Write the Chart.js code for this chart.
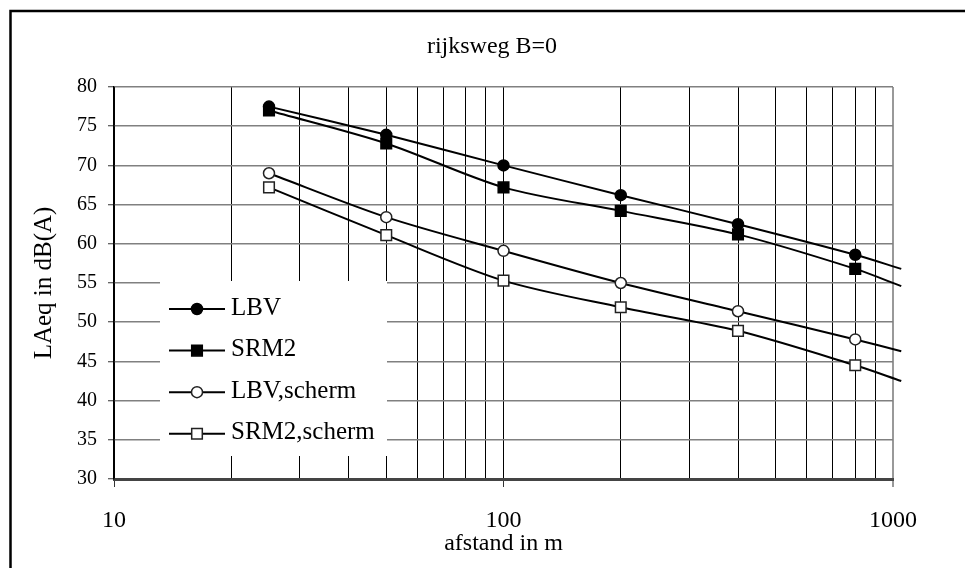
<!DOCTYPE html>
<html lang="nl">
<head>
  <meta charset="UTF-8">
  <title>rijksweg B=0</title>
  <script src="https://cdn.jsdelivr.net/npm/chart.js"></script>
  <style>
    body {
      margin: 0;
      padding: 0;
      background: #ffffff;
    }
    #wrap {
      width: 965px;
      height: 568px;
    }
  </style>
</head>
<body>
  <div id="wrap">
    <canvas id="chart" width="965" height="568"></canvas>
  </div>

  <script>
    // afstand (m); het laatste punt is alleen het doorlopende lijnstuk voorbij 1000 m
    const afstand = [25, 50, 100, 200, 400, 800, 1050];

    // LAeq in dB(A) per rekenmethode
    const lbv        = [77.5, 73.9, 70.0, 66.2, 62.5, 58.6, 56.8];
    const srm2       = [77.0, 72.8, 67.2, 64.2, 61.2, 56.8, 54.6];
    const lbvScherm  = [69.0, 63.4, 59.1, 55.0, 51.4, 47.8, 46.3];
    const srm2Scherm = [67.2, 61.1, 55.3, 51.9, 48.9, 44.5, 42.5];

    // rasterlijnen op de log-as en de waarden die een label krijgen
    const xGridValues = [10, 20, 30, 40, 50, 60, 70, 80, 90, 100, 200, 300, 400, 500, 600, 700, 800, 900, 1000];
    const xTickLabels = [10, 100, 1000];

    const titel = 'rijksweg B=0';
    const serif = "'Liberation Serif', 'Times New Roman', serif";

    function toPoints(values) {
      return values.map((v, i) => ({ x: afstand[i], y: v }));
    }

    function makeDataset(label, values, style, filled) {
      const last = values.length - 1;
      const r = style === 'rect' ? 7.5 : 5.5;
      return {
        label: label,
        data: toPoints(values),
        borderColor: '#000',
        borderWidth: 2,
        tension: 0.3,
        pointStyle: style,
        pointRadius: ctx => ctx.dataIndex === last ? 0 : r,
        pointHoverRadius: ctx => ctx.dataIndex === last ? 0 : r,
        pointBackgroundColor: filled ? '#000' : '#fff',
        pointBorderColor: filled ? '#000' : '#222',
        pointBorderWidth: 1.5,
        clip: false
      };
    }

    // witte achtergrond, kader, titel en legenda
    const decorPlugin = {
      id: 'decor',
      beforeDraw(chart) {
        const ctx = chart.ctx;
        ctx.save();
        ctx.fillStyle = '#fff';
        ctx.fillRect(0, 0, chart.width, chart.height);
        ctx.restore();
      },
      afterDraw(chart) {
        const ctx = chart.ctx;
        ctx.save();

        // kader links en boven
        ctx.strokeStyle = '#000';
        ctx.lineWidth = 2.5;
        ctx.beginPath();
        ctx.moveTo(10.5, chart.height);
        ctx.lineTo(10.5, 11);
        ctx.lineTo(chart.width, 11);
        ctx.stroke();

        // titel
        ctx.fillStyle = '#000';
        ctx.font = '24px ' + serif;
        ctx.textAlign = 'center';
        ctx.textBaseline = 'middle';
        ctx.fillText(titel, 492, 47);

        // legenda met wit vlak over het raster
        const box = { x: 160, y: 281, w: 227, h: 175 };
        ctx.fillStyle = '#fff';
        ctx.fillRect(box.x, box.y, box.w, box.h);

        ctx.font = '25px ' + serif;
        ctx.textAlign = 'left';
        chart.data.datasets.forEach((ds, i) => {
          const y = 309 + i * 41.6;
          ctx.strokeStyle = '#000';
          ctx.lineWidth = 2;
          ctx.beginPath();
          ctx.moveTo(169, y);
          ctx.lineTo(225, y);
          ctx.stroke();

          const r = ds.pointStyle === 'rect' ? 7.5 : 5.5;
          ctx.fillStyle = ds.pointBackgroundColor;
          ctx.strokeStyle = ds.pointBorderColor;
          ctx.lineWidth = ds.pointBorderWidth;
          ctx.beginPath();
          if (ds.pointStyle === 'rect') {
            const s = r * Math.SQRT1_2;
            ctx.rect(197 - s, y - s, 2 * s, 2 * s);
          } else {
            ctx.arc(197, y, r, 0, Math.PI * 2);
          }
          ctx.fill();
          ctx.stroke();

          ctx.fillStyle = '#000';
          ctx.fillText(ds.label, 231, y - 1);
        });

        ctx.restore();
      }
    };

    const ctx = document.getElementById('chart').getContext('2d');
    new Chart(ctx, {
      type: 'line',
      data: {
        datasets: [
          makeDataset('LBV', lbv, 'circle', true),
          makeDataset('SRM2', srm2, 'rect', true),
          makeDataset('LBV,scherm', lbvScherm, 'circle', false),
          makeDataset('SRM2,scherm', srm2Scherm, 'rect', false)
        ]
      },
      options: {
        responsive: false,
        animation: false,
        devicePixelRatio: 1,
        layout: {
          padding: { left: 0, top: 87, right: 72, bottom: 0 }
        },
        plugins: {
          legend: { display: false },
          title: { display: false },
          tooltip: { enabled: false }
        },
        scales: {
          x: {
            type: 'logarithmic',
            min: 10,
            max: 1000,
            afterBuildTicks(scale) {
              scale.ticks = xGridValues.map(v => ({ value: v, major: xTickLabels.includes(v) }));
            },
            afterFit(scale) {
              scale.height = 89;
            },
            ticks: {
              autoSkip: false,
              maxRotation: 0,
              padding: 19,
              color: '#000',
              font: { family: serif, size: 24 },
              callback: value => xTickLabels.includes(value) ? String(value) : ''
            },
            grid: {
              color: c => c.tick && c.tick.value === 1000 ? '#999' : '#000',
              lineWidth: c => c.tick && c.tick.value === 1000 ? 2 : 1,
              tickLength: 8,
              tickColor: c => c.tick && xTickLabels.includes(c.tick.value) ? '#333' : 'rgba(0,0,0,0)',
              tickWidth: 1
            },
            border: { color: '#444', width: 3 },
            title: {
              display: true,
              text: 'afstand in m',
              color: '#000',
              font: { family: serif, size: 24 },
              padding: { top: 0, bottom: 10 }
            }
          },
          y: {
            min: 30,
            max: 80,
            afterFit(scale) {
              scale.width = 114;
            },
            ticks: {
              stepSize: 5,
              padding: 11,
              color: '#000',
              font: { family: serif, size: 20 }
            },
            grid: {
              color: '#808080',
              lineWidth: 1.5,
              tickLength: 6,
              tickColor: '#333',
              tickWidth: 1
            },
            border: { color: '#000', width: 1.5 },
            title: {
              display: true,
              text: 'LAeq in dB(A)',
              color: '#000',
              font: { family: serif, size: 25 },
              padding: { top: 29, bottom: 0 }
            }
          }
        }
      },
      plugins: [decorPlugin]
    });
  </script>
</body>
</html>
